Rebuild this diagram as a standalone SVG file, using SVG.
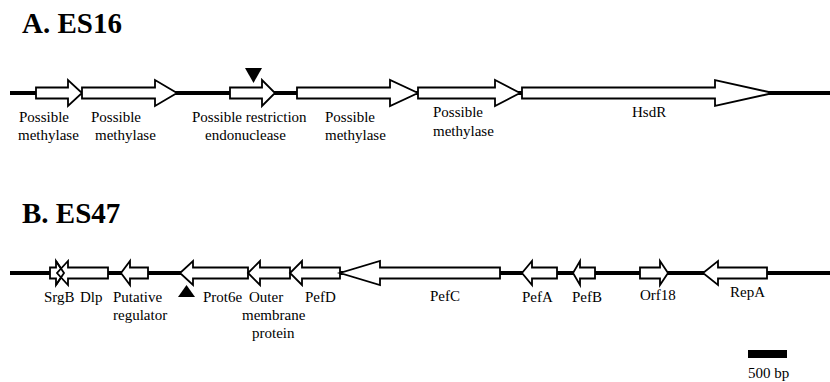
<svg xmlns="http://www.w3.org/2000/svg" width="830" height="382" viewBox="0 0 830 382">
  <style>
    .bg { fill: #ffffff; }
    .dna { stroke: #000; stroke-width: 4; fill: none; }
    .gene { fill: #ffffff; stroke: #000; stroke-width: 1.8; stroke-linejoin: miter; }
    .edge { fill: none; stroke: #000; stroke-width: 1.8; }
    .mark { fill: #000; }
    .title { font-family: "Liberation Serif", "Times New Roman", serif; font-weight: bold; font-size: 29px; fill: #000; }
    .lbl { font-family: "Liberation Serif", "Times New Roman", serif; font-size: 15px; fill: #000; }
  </style>
  <rect class="bg" x="0" y="0" width="830" height="382"/>

  <!-- Panel A: ES16 -->
  <text class="title" x="22" y="33">A. ES16</text>
  <g id="connectors">
    <line class="dna" x1="10" y1="93" x2="830" y2="93"/>
    <line class="dna" x1="10" y1="273" x2="830" y2="273"/>
  </g>

  <g id="a-methylase-1">
    <polygon class="gene" points="36,87.5 68,87.5 68,80 82,93 68,106 68,98.5 36,98.5"/>
    <text class="lbl" x="19" y="122">Possible</text>
    <text class="lbl" x="18" y="140">methylase</text>
  </g>
  <g id="a-methylase-2">
    <polygon class="gene" points="82,87.5 155,87.5 155,80 177,93 155,106 155,98.5 82,98.5"/>
    <text class="lbl" x="91" y="122">Possible</text>
    <text class="lbl" x="95" y="140">methylase</text>
  </g>
  <g id="a-restriction">
    <polygon class="gene" points="230,87.5 262,87.5 262,80 275,93 262,106 262,98.5 230,98.5"/>
    <polygon class="mark" points="245,68 262,68 253.5,83"/>
    <text class="lbl" x="192" y="122">Possible restriction</text>
    <text class="lbl" x="205" y="140">endonuclease</text>
  </g>
  <g id="a-methylase-3">
    <polygon class="gene" points="297,87.5 390,87.5 390,80 418,93 390,106 390,98.5 297,98.5"/>
    <text class="lbl" x="325" y="122">Possible</text>
    <text class="lbl" x="325" y="140">methylase</text>
  </g>
  <g id="a-methylase-4">
    <polygon class="gene" points="418,87.5 495,87.5 495,80 520,93 495,106 495,98.5 418,98.5"/>
    <text class="lbl" x="433" y="117">Possible</text>
    <text class="lbl" x="433" y="136">methylase</text>
  </g>
  <g id="a-hsdr">
    <polygon class="gene" points="522,87.5 715,87.5 715,80 773,93 715,106 715,98.5 522,98.5"/>
    <text class="lbl" x="632" y="117">HsdR</text>
  </g>

  <!-- Panel B: ES47 -->
  <text class="title" x="22" y="223">B. ES47</text>

  <g id="b-srgb">
    <polygon class="gene" points="50,267.5 56,267.5 56,261 64,273 56,285 56,278.5 50,278.5"/>
    <text class="lbl" x="44" y="302">SrgB</text>
  </g>
  <g id="b-dlp">
    <polygon class="gene" points="108,267.5 68,267.5 68,261 57,273 68,285 68,278.5 108,278.5"/>
    <polyline class="edge" points="56,261 64,273 56,285"/>
    <text class="lbl" x="80" y="302">Dlp</text>
  </g>
  <g id="b-regulator">
    <polygon class="gene" points="148,267.5 130,267.5 130,261 121,273 130,285 130,278.5 148,278.5"/>
    <text class="lbl" x="113" y="302">Putative</text>
    <text class="lbl" x="113" y="320">regulator</text>
  </g>
  <g id="b-prot6e">
    <polygon class="gene" points="248,267.5 193,267.5 193,261 180,273 193,285 193,278.5 248,278.5"/>
    <polygon class="mark" points="178,297 195,297 186.5,285"/>
    <text class="lbl" x="203" y="302">Prot6e</text>
  </g>
  <g id="b-outer-membrane">
    <polygon class="gene" points="290,267.5 260,267.5 260,261 248,273 260,285 260,278.5 290,278.5"/>
    <text class="lbl" x="249" y="302">Outer</text>
    <text class="lbl" x="242" y="320">membrane</text>
    <text class="lbl" x="252" y="338">protein</text>
  </g>
  <g id="b-pefd">
    <polygon class="gene" points="340,267.5 302,267.5 302,261 290,273 302,285 302,278.5 340,278.5"/>
    <text class="lbl" x="305" y="302">PefD</text>
  </g>
  <g id="b-pefc">
    <polygon class="gene" points="500,267.5 380,267.5 380,261 340,273 380,285 380,278.5 500,278.5"/>
    <text class="lbl" x="430" y="301">PefC</text>
  </g>
  <g id="b-pefa">
    <polygon class="gene" points="557,267.5 532,267.5 532,261 522,273 532,285 532,278.5 557,278.5"/>
    <text class="lbl" x="522" y="302">PefA</text>
  </g>
  <g id="b-pefb">
    <polygon class="gene" points="595,267.5 580,267.5 580,261 573,273 580,285 580,278.5 595,278.5"/>
    <text class="lbl" x="572" y="302">PefB</text>
  </g>
  <g id="b-orf18">
    <polygon class="gene" points="640,267.5 660,267.5 660,261 668,273 660,285 660,278.5 640,278.5"/>
    <text class="lbl" x="640" y="300">Orf18</text>
  </g>
  <g id="b-repa">
    <polygon class="gene" points="767,267.5 718,267.5 718,261 703,273 718,285 718,278.5 767,278.5"/>
    <text class="lbl" x="730" y="297">RepA</text>
  </g>

  <!-- scale bar -->
  <g id="scale-bar">
    <rect class="mark" x="748" y="350" width="39" height="8"/>
    <text class="lbl" x="748" y="378">500 bp</text>
  </g>
</svg>
